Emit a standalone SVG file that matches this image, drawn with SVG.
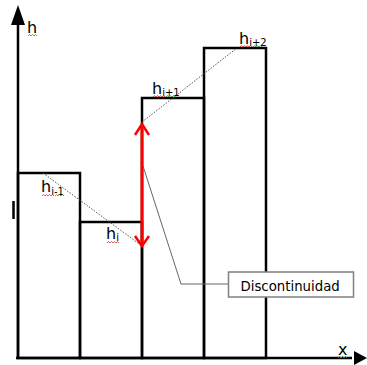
<svg xmlns="http://www.w3.org/2000/svg" width="367" height="365" viewBox="0 0 367 365">
<style>
.bar{fill:none;stroke:#000;stroke-width:2.5}
.axis{stroke:#000;stroke-width:2.5;fill:none}
.dot{stroke:#555;stroke-width:1;stroke-dasharray:1.5 1.5;fill:none}
.lbl{font-family:"DejaVu Sans",Verdana,sans-serif;font-size:16px;fill:#000}
.sub{font-size:10px}
.sq-r{fill:none;stroke:#e03030;stroke-width:0.8}
.sq-g{fill:none;stroke:#3a9a3a;stroke-width:0.8}
</style>
<rect width="367" height="365" fill="#fff"/>
<g id="bars">
<rect id="bar1" class="bar" x="18" y="173" width="62" height="185"/>
<rect id="bar2" class="bar" x="80" y="222" width="62" height="136"/>
<rect id="bar3" class="bar" x="142" y="98" width="62" height="260"/>
<rect id="bar4" class="bar" x="204" y="48" width="62" height="310"/>
</g>
<g id="axes">
<line class="axis" x1="18" y1="359" x2="18" y2="22"/>
<polygon points="18,5 11,25 25,25" fill="#000"/>
<line class="axis" x1="16" y1="358" x2="352" y2="358"/>
<polygon points="367,358 354,351 354,365" fill="#000"/>
</g>
<g id="connectors">
<line class="dot" x1="43" y1="173" x2="142" y2="246"/>
<line class="dot" x1="142" y1="122" x2="237" y2="48"/>
<polyline points="143,166 181,284 228,284" fill="none" stroke="#666" stroke-width="1"/>
<line x1="142" y1="125" x2="142" y2="245" stroke="#f00" stroke-width="3"/>
<polyline points="135,135 142,124 149,135" fill="none" stroke="#f00" stroke-width="2.5"/>
<polyline points="135,236 142,246 149,236" fill="none" stroke="#f00" stroke-width="2.5"/>
</g>
<g id="callout">
<rect x="228.5" y="272" width="125" height="25" fill="#fff" stroke="#808080" stroke-width="1.5"/>
<text x="240.5" y="291" font-family="DejaVu Sans, Verdana, sans-serif" font-size="13.3" fill="#000">Discontinuidad</text>
</g>
<g id="labels">
<text class="lbl" x="27" y="33">h</text>
<path class="sq-g" d="M28,36 l1.5,-1.5 l1.5,1.5 l1.5,-1.5 l1.5,1.5 l1.5,-1.5 l1.5,1.5"/>
<text class="lbl" x="41" y="192">h<tspan class="sub" dy="3">i-1</tspan></text>
<path class="sq-r" d="M42,196 l1.5,-1.5 l1.5,1.5 l1.5,-1.5 l1.5,1.5 l1.5,-1.5 l1.5,1.5 l1.5,-1.5 l1.5,1.5"/>
<path class="sq-g" d="M55,196 l1.5,-1.5 l1.5,1.5 l1.5,-1.5 l1.5,1.5 l1.5,-1.5 l1.5,1.5"/>
<text class="lbl" x="106" y="239">h<tspan class="sub" dy="2">i</tspan></text>
<path class="sq-r" d="M107,243 l1.5,-1.5 l1.5,1.5 l1.5,-1.5 l1.5,1.5 l1.5,-1.5 l1.5,1.5 l1.5,-1.5 l1.5,1.5"/>
<text class="lbl" x="152" y="94">h<tspan class="sub" dy="2">i+1</tspan></text>
<path class="sq-r" d="M153,97 l1.5,-1.5 l1.5,1.5 l1.5,-1.5 l1.5,1.5 l1.5,-1.5 l1.5,1.5 l1.5,-1.5 l1.5,1.5"/>
<path class="sq-g" d="M166,97 l1.5,-1.5 l1.5,1.5 l1.5,-1.5 l1.5,1.5 l1.5,-1.5 l1.5,1.5"/>
<text class="lbl" x="239" y="44">h<tspan class="sub" dy="2">i+2</tspan></text>
<path class="sq-r" d="M240,47 l1.5,-1.5 l1.5,1.5 l1.5,-1.5 l1.5,1.5 l1.5,-1.5 l1.5,1.5 l1.5,-1.5 l1.5,1.5"/>
<path class="sq-g" d="M253,47 l1.5,-1.5 l1.5,1.5 l1.5,-1.5 l1.5,1.5 l1.5,-1.5 l1.5,1.5"/>
<text class="lbl" x="338" y="355" font-size="14">x</text>
<path class="sq-g" d="M338,358 l1.5,-1.5 l1.5,1.5 l1.5,-1.5 l1.5,1.5 l1.5,-1.5 l1.5,1.5"/>
<line x1="13.5" y1="201" x2="13.5" y2="219" stroke="#000" stroke-width="2.5"/>
</g>
</svg>
